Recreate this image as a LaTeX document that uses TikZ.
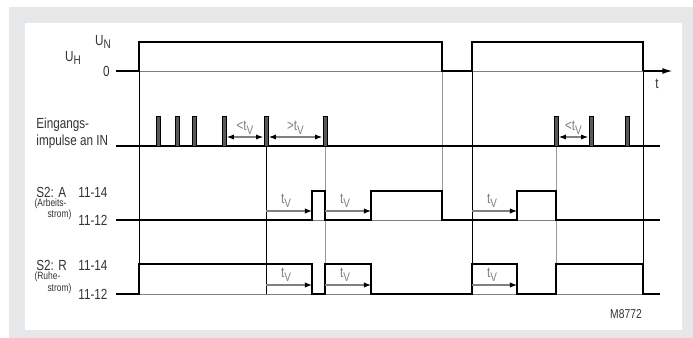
\documentclass[tikz,border=0pt]{standalone}
\usepackage{fontspec}
\usepackage{graphicx}
\setmainfont{Liberation Sans}[FakeStretch=0.8]
\usetikzlibrary{arrows.meta}
\definecolor{panel}{HTML}{E6E7E8}
\definecolor{ink}{HTML}{333333}
\newcommand{\sub}[1]{\raisebox{-0.45ex}{\scalebox{0.85}{#1}}}
\newcommand{\tv}{t\sub{V}}

\begin{document}
\begin{tikzpicture}[x=0.03cm, y=-0.03cm,
    font=\fontsize{12.5}{13}\selectfont, text=ink, inner sep=1pt,
    sig/.style={line width=1.5pt, line join=miter},
    base/.style={gray, line width=0.6pt},
    timeline/.style={line width=0.6pt},
    greyline/.style={gray!80, line width=0.6pt},
    pulse/.style={draw=black, fill=black!65, line width=0.7pt},
    span/.style={gray, line width=0.9pt, {Latex[black,length=6pt,width=4.5pt]}-{Latex[black,length=6pt,width=4.5pt]}},
    delay/.style={gray, line width=0.9pt, -{Latex[black,length=6pt,width=4.5pt]}},
    small/.style={font=\fontsize{9}{10}\selectfont, inner sep=0.3pt}]
    \useasboundingbox (0,0) rectangle (693,338);
    \fill[panel] (9,7) rectangle (693,338);
    \fill[white] (25,23) rectangle (682,330);

    % time marks
    \draw[timeline] (139,71) -- (139,264);
    \draw[timeline] (266,146) -- (266,294);
    \draw[greyline] (325,146) -- (325,294);
    \draw[greyline] (442,71) -- (442,191);
    \draw[timeline] (472,71) -- (472,294);
    \draw[greyline] (556,146) -- (556,294);
    \draw[timeline] (643,71) -- (643,294);

    % supply voltage
    \node (un) at (103,42) {U\sub{N}};
    \node (uh) at (73,58) {U\sub{H}};
    \node[anchor=east] (zero) at (111,71) {0};
    \draw[base] (139,71) -- (643,71);
    \draw[sig] (116,71) -- (139,71) -- (139,42) -- (442,42) -- (442,71)
        -- (472,71) -- (472,42) -- (643,42) -- (643,71);
    \coordinate (tend) at (673,71);
    \draw[line width=1.5pt, -{Latex[length=9pt,width=5pt]}] (643,71) -- (tend);
    \node (t) at (657,84) {t};

    % input pulses
    \node[anchor=west] (in1) at (35,125) {Eingangs-};
    \node[anchor=west] (in2) at (35,142) {impulse an IN};
    \draw[sig] (116,146) -- (660,146);
    \foreach \x/\n in {158/a,177/b,194/c,224/d,266/e,325/f,556/g,591/h,627/i} {
        \draw[pulse] (\x-2,116) rectangle (\x+2,146);
        \coordinate (p\n) at (\x,137);
    }
    \draw[span] ([xshift=2.5]pd) -- ([xshift=-2.5]pe) node[midway, above=1pt, gray] {<\tv};
    \draw[span] ([xshift=2.5]pe) -- ([xshift=-2.5]pf) node[midway, above=1pt, gray] {>\tv};
    \draw[span] ([xshift=2.5]pg) -- ([xshift=-2.5]ph) node[midway, above=1pt, gray] {<\tv};

    % S2 A
    \node[anchor=west] (a1) at (35,192) {S2: A};
    \node[anchor=west] (a2) at (77,192) {11-14};
    \node[anchor=west, small] (a3) at (34,204) {(Arbeits-};
    \node[anchor=east, small] (a4) at (72,215) {strom)};
    \node[anchor=west] (a5) at (77,220) {11-12};
    \draw[base] (116,220) -- (660,220);
    \draw[sig] (116,220) -- (312,220) -- (312,191) -- (325,191) -- (325,220)
        -- (371,220) -- (371,191) -- (442,191) -- (442,220) -- (517,220)
        -- (517,191) -- (556,191) -- (556,220) -- (660,220);
    \foreach \s/\e in {266/312,325/371,472/517} {
        \draw[delay] (\s,211) -- (\e,211);
        \node[gray] at (\s+20,201) {\tv};
    }

    % S2 R
    \node[anchor=west] (r1) at (35,265) {S2: R};
    \node[anchor=west] (r2) at (77,265) {11-14};
    \node[anchor=west, small] (r3) at (34,277) {(Ruhe-};
    \node[anchor=east, small] (r4) at (72,289) {strom)};
    \node[anchor=west] (r5) at (77,294) {11-12};
    \draw[base] (139,294) -- (643,294);
    \draw[sig] (116,294) -- (139,294) -- (139,264) -- (312,264) -- (312,294)
        -- (325,294) -- (325,264) -- (371,264) -- (371,294) -- (472,294)
        -- (472,264) -- (517,264) -- (517,294) -- (556,294) -- (556,264)
        -- (643,264) -- (643,294) -- (660,294);
    \foreach \s/\e in {266/312,325/371,472/517} {
        \draw[delay] (\s,285) -- (\e,285);
        \node[gray] at (\s+20,275) {\tv};
    }

    \node[font=\fontsize{11}{12}\selectfont] (code) at (626,314) {M8772};
\end{tikzpicture}
\end{document}
